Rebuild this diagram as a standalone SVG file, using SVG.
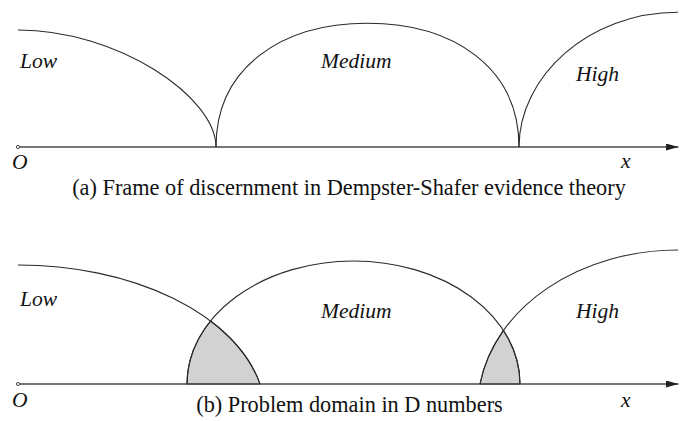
<svg xmlns="http://www.w3.org/2000/svg" width="688" height="421" viewBox="0 0 688 421">
<style>
.c{fill:none;stroke:#2a2a2a;stroke-width:1.1}
.ax{fill:none;stroke:#4a4a4a;stroke-width:1.5}
.sh{fill:#d2d2d2;stroke:#2a2a2a;stroke-width:1.1}
.lb{font-family:"Liberation Serif",serif;font-style:italic;font-size:21.5px;fill:#111}
.cap{font-family:"Liberation Serif",serif;font-size:22.3px;fill:#111}
</style>
<defs>
<marker id="ah" markerWidth="13" markerHeight="8" refX="12.5" refY="3.5" orient="auto" markerUnits="userSpaceOnUse">
<path d="M0,0 L12.5,3.5 L0,7 Z" fill="#222"/>
</marker>
</defs>
<g id="panel-a">
<g id="connectors-a">
<line class="ax" x1="18" y1="147" x2="678.5" y2="147" marker-end="url(#ah)"/>
<circle cx="18" cy="147" r="1.6" fill="#fff" stroke="#444" stroke-width="1"/>
</g>
<g id="low-a">
<path class="c" d="M18,30 C118,30 216,97 216,147"/>
<text class="lb" x="20" y="68">Low</text>
</g>
<g id="medium-a">
<path class="c" d="M216,147 C216,67 282.5,23.3 367.5,23.3 C452.5,23.3 519,67 519,147"/>
<text class="lb" x="321" y="68">Medium</text>
</g>
<g id="high-a">
<path class="c" d="M519,147 C519,77 588,12.3 678,12.3"/>
<text class="lb" x="576" y="81">High</text>
</g>
<text class="lb" x="12" y="169">O</text>
<text class="lb" x="621" y="168">x</text>
<text class="cap" x="349" y="195" text-anchor="middle">(a) Frame of discernment in Dempster-Shafer evidence theory</text>
</g>
<g id="panel-b">
<g id="shaded">
<path class="sh" d="M187,384 A166.5,123 0 0 1 210.6,321 A247.5,150.5 0 0 1 260,384 Z"/>
<path class="sh" d="M480,384 A200.3,157.9 0 0 1 503.5,330.5 A166.5,123 0 0 1 520,384 Z"/>
</g>
<g id="connectors-b">
<line class="ax" x1="18" y1="384" x2="678.5" y2="384" marker-end="url(#ah)"/>
<circle cx="18" cy="384" r="1.6" fill="#fff" stroke="#444" stroke-width="1"/>
</g>
<g id="low-b">
<path class="c" d="M18,265 A247.5,150.5 0 0 1 260,384"/>
<text class="lb" x="20" y="306">Low</text>
</g>
<g id="medium-b">
<path class="c" d="M187,384 A166.5,123 0 0 1 520,384"/>
<text class="lb" x="321" y="318">Medium</text>
</g>
<g id="high-b">
<path class="c" d="M480,384 A200.3,157.9 0 0 1 678,250"/>
<text class="lb" x="576" y="318">High</text>
</g>
<text class="lb" x="12" y="406.5">O</text>
<text class="lb" x="621" y="406.5">x</text>
<text class="cap" x="349.5" y="412" text-anchor="middle">(b) Problem domain in D numbers</text>
</g>
</svg>
